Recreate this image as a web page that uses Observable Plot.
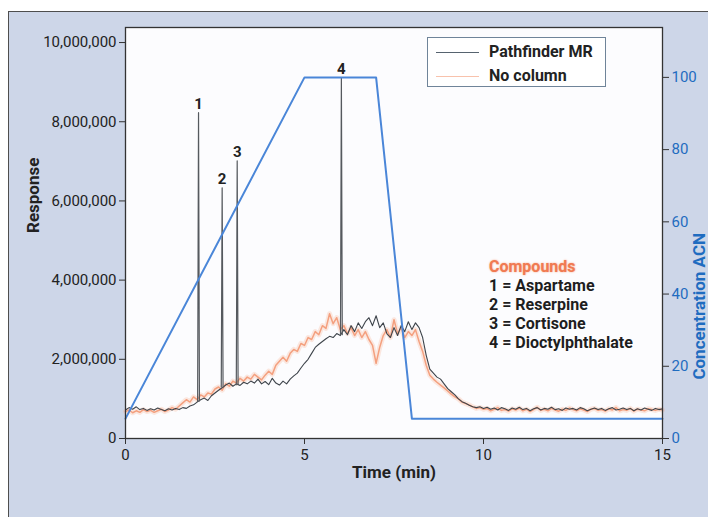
<!DOCTYPE html>
<html><head><meta charset="utf-8">
<script src="https://cdn.jsdelivr.net/npm/d3@7"></script>
<script src="https://cdn.jsdelivr.net/npm/@observablehq/plot@0.6"></script>
<style>
html,body{margin:0;padding:0;background:#fff;}
#wrap{position:relative;width:708px;height:517px;overflow:hidden;font-family:Roboto,"Liberation Sans",sans-serif;}
#panel{position:absolute;left:8px;top:11px;width:720px;height:530px;background:#cdd6e8;border:1.5px solid #4e4e4e;}
#chart{position:absolute;left:0;top:0;}
.legend{position:absolute;left:427px;top:37px;width:177px;height:48px;border:1.5px solid #6f8499;background:#fff;}
.lg{position:absolute;left:61px;font-weight:bold;font-size:16px;color:#222;line-height:20px;white-space:nowrap;}
.sw{position:absolute;left:8px;width:43px;height:0;}
.comp{position:absolute;left:489px;top:257px;font-weight:bold;font-size:16px;line-height:19px;color:#1e1e1e;white-space:nowrap;}
.comp .h{color:#f07a52;text-shadow:0 0 2px #f7a584;}
</style></head>
<body>
<div id="wrap">
  <div id="panel"></div>
  <div id="chart"></div>
  <div class="legend">
    <div class="sw" style="top:14px;border-top:1.5px solid #56636f"></div>
    <div class="lg" style="top:4px">Pathfinder MR</div>
    <div class="sw" style="top:38px;border-top:1.5px solid #f8c2ac"></div>
    <div class="lg" style="top:28px">No column</div>
  </div>
  <div class="comp" id="comp"></div>
</div>
<script>
// sampling step of the recorded traces (min)
const sampleStep = 0.1;
// Pathfinder MR trace, response in millions, one value per sample from t = 0
const pfResp = [
 0.72,0.78,0.74,0.80,0.73,0.76,0.71,0.75,0.72,0.77,0.73,0.70,0.75,0.72,0.76,0.73,0.78,0.76,0.82,0.85,
 0.92,0.98,1.02,0.96,1.08,1.15,1.22,1.28,1.35,1.40,
 1.32,1.38,1.34,1.42,1.38,1.45,1.40,1.50,1.38,1.44,
 1.36,1.52,1.40,1.35,1.45,1.38,1.50,1.58,1.65,1.78,
 1.90,2.00,2.15,2.30,2.38,2.45,2.52,2.58,2.55,2.65,
 2.60,2.75,2.62,2.85,2.70,2.92,2.78,2.95,3.05,2.85,
 3.10,2.80,2.92,2.65,2.55,2.80,2.60,2.85,2.70,2.95,
 2.75,2.92,2.80,2.55,2.10,1.75,1.65,1.55,1.50,1.38,
 1.26,1.18,1.10,1.00,0.93,0.89,0.84,0.80,0.78,0.80,
 0.76,0.79,0.74,0.77,0.72,0.78,0.75,0.71,0.77,0.74,0.79,0.73,0.76,0.70,0.75,0.78,0.72,0.76,0.74,0.79,
 0.73,0.75,0.71,0.77,0.74,0.76,0.72,0.78,0.75,0.70,0.74,0.77,0.73,0.76,0.71,0.75,0.78,0.72,0.74,0.77,
 0.73,0.76,0.70,0.75,0.72,0.77,0.74,0.71,0.76,0.73,0.75
];
// No column trace, response in millions
const ncResp = [
 0.68,0.72,0.65,0.70,0.66,0.73,0.68,0.71,0.66,0.70,0.74,0.68,0.72,0.78,0.74,0.82,0.90,0.98,0.92,1.05,
 0.98,1.10,1.05,1.15,1.12,1.25,1.30,1.22,1.38,1.32,
 1.45,1.40,1.52,1.45,1.55,1.50,1.62,1.55,1.48,1.60,
 1.70,1.62,1.85,1.95,2.05,1.95,2.15,2.25,2.20,2.40,
 2.35,2.55,2.50,2.70,2.62,2.85,2.78,3.15,2.90,3.05,
 2.75,2.85,2.65,2.80,2.60,2.75,2.55,2.70,2.50,2.35,
 1.90,2.30,2.60,2.75,2.55,3.00,2.65,2.80,2.55,2.70,
 2.60,2.75,2.45,2.20,1.85,1.60,1.50,1.42,1.35,1.28,
 1.20,1.12,1.05,1.00,0.92,0.88,0.85,0.80,0.76,0.78,
 0.74,0.76,0.70,0.74,0.78,0.71,0.73,0.69,0.75,0.72,0.77,0.70,0.74,0.68,0.73,0.79,0.71,0.74,0.70,0.76,
 0.72,0.69,0.74,0.71,0.77,0.73,0.70,0.75,0.72,0.68,0.74,0.76,0.71,0.73,0.69,0.75,0.72,0.78,0.70,0.73,
 0.71,0.76,0.69,0.74,0.72,0.70,0.75,0.73,0.71,0.74,0.72
];
// Peaks (Pathfinder MR)
const peakLabel = ["1","2","3","4"];
const peakTime = [2.04, 2.70, 3.12, 6.03];
const peakResp = [8.23, 6.33, 7.01, 9.11];
const peakBase = [0.95, 1.30, 1.36, 2.62];
const peakHalfWidth = 0.025;
// Gradient program (% ACN)
const gradTime = [0, 5, 7, 8, 15];
const gradConc = [5.5, 100, 100, 5.5, 5.5];
// Axis ticks
const timeTicks = [0, 5, 10, 15];
const respTicks = [0, 2, 4, 6, 8, 10];
const concTicks = [0, 20, 40, 60, 80, 100];
// Compounds
const compounds = ["Aspartame", "Reserpine", "Cortisone", "Dioctylphthalate"];

const K = 0.0912; // 1 % ACN expressed on the response axis (millions)
const blue = "#1f6cc0";

const pf = pfResp.map((r, i) => ({t: i * sampleStep, r}));
const nc = ncResp.map((r, i) => ({t: i * sampleStep, r}));
const spikes = peakTime.flatMap((tp, k) => [
  {k, t: tp - peakHalfWidth, r: peakBase[k]},
  {k, t: tp, r: peakResp[k]},
  {k, t: tp + peakHalfWidth, r: peakBase[k]}
]);
const peaks = peakTime.map((t, k) => ({t, r: peakResp[k], label: peakLabel[k]}));
const grad = gradTime.map((t, i) => ({t, c: gradConc[i]}));

const chart = Plot.plot({
  width: 708, height: 517,
  marginLeft: 125, marginRight: 46, marginTop: 27, marginBottom: 79,
  style: {background: "transparent", fontFamily: 'Roboto,"Liberation Sans",sans-serif', overflow: "visible"},
  x: {domain: [0, 15]},
  y: {domain: [0, 10.38]},
  marks: [
    Plot.frame({fill: "#fcfcfe"}),
    Plot.line(nc, {x: "t", y: "r", stroke: "#f6a883", strokeWidth: 5, strokeOpacity: 0.25}),
    Plot.line(nc, {x: "t", y: "r", stroke: "#f07a4c", strokeWidth: 1.5, strokeOpacity: 0.65}),
    Plot.line(pf, {x: "t", y: "r", stroke: "#3e444b", strokeWidth: 1.1}),
    Plot.line(spikes, {x: "t", y: "r", z: "k", stroke: "#55595e", strokeWidth: 1.2}),
    Plot.line(grad, {x: "t", y: d => d.c * K, stroke: "#4a86d8", strokeWidth: 2}),
    Plot.text(peaks, {x: "t", y: "r", text: "label", dy: -4, lineAnchor: "bottom", fontSize: 15, fontWeight: "bold", fill: "#222"}),
    Plot.frame({stroke: "#333", strokeWidth: 1.3}),
    Plot.axisX({ticks: timeTicks, tickSize: 6, tickPadding: 5, fontSize: 15, label: null, stroke: "#333", fill: "#222"}),
    Plot.axisY({ticks: respTicks, tickFormat: d => d3.format(",")(d * 1e6), tickSize: 6, tickPadding: 3, fontSize: 15, label: null, stroke: "#333", fill: "#222"}),
    Plot.axisY({anchor: "right", ticks: concTicks.map(v => v * K), tickFormat: d => String(Math.round(d / K)), tickSize: 6, tickPadding: 3, fontSize: 15, label: null, stroke: "#333", fill: blue}),
    Plot.text(["Time (min)"], {frameAnchor: "bottom", dy: 39, fontSize: 17, fontWeight: "bold", fill: "#222"}),
    Plot.text(["Response"], {frameAnchor: "left", dx: -92, rotate: -90, fontSize: 17, fontWeight: "bold", fill: "#222"}),
    Plot.text(["Concentration ACN"], {frameAnchor: "right", dx: 37, rotate: -90, fontSize: 17, fontWeight: "bold", fill: blue})
  ]
});
document.getElementById("chart").appendChild(chart);

const comp = document.getElementById("comp");
comp.innerHTML = '<div class="h">Compounds</div>' + compounds.map((c, i) => `<div>${peakLabel[i]} = ${c}</div>`).join("");
</script>
</body></html>
